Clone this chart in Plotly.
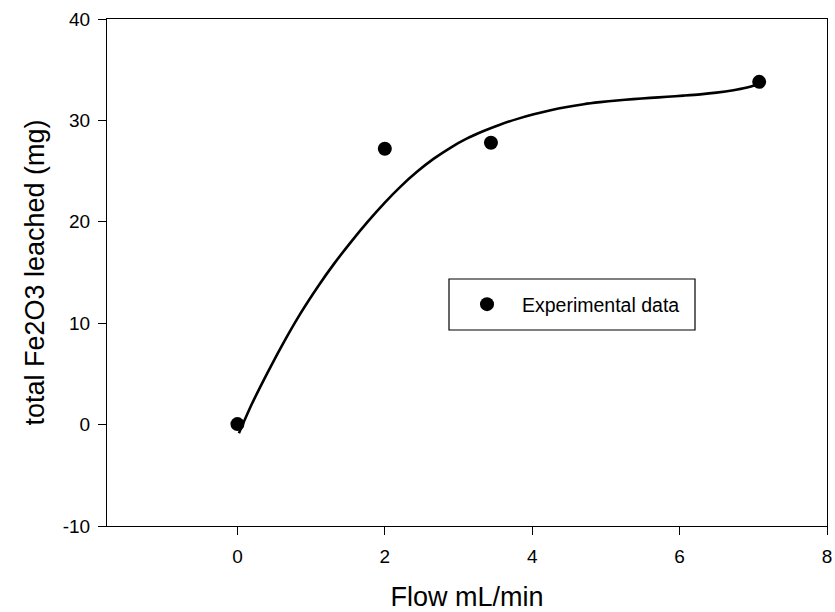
import plotly.graph_objects as go

# Experimental data
flow = [0.0, 2.0, 3.44, 7.08]
fe2o3 = [0.05, 27.2, 27.8, 33.8]

# Fitted curve
fit_x = [0.02, 0.2, 0.4, 0.6, 0.85, 1.1, 1.31, 1.55, 1.76, 2.0, 2.21, 2.44, 2.66, 2.9, 3.11,
         3.34, 3.57, 3.8, 4.02, 4.25, 4.47, 4.7, 4.92, 5.15, 5.37, 5.6, 5.83, 6.05, 6.28,
         6.5, 6.73, 6.9, 7.08]
fit_y = [-0.85, 2.1, 5.0, 7.75, 10.9, 13.7, 15.85, 18.1, 19.95, 21.9, 23.45, 24.95, 26.2, 27.35, 28.2,
         28.95, 29.6, 30.15, 30.6, 31.0, 31.32, 31.6, 31.8, 31.97, 32.1, 32.22, 32.33, 32.44, 32.57,
         32.74, 32.98, 33.22, 33.6]

x_ticks = [0, 2, 4, 6, 8]
x_labels = ["0", "2", "4", "6", "8"]
y_ticks = [-10, 0, 10, 20, 30, 40]
y_labels = ["-10", "0", "10", "20", "30", "40"]

FONT = "Arial, Liberation Sans, sans-serif"

fig = go.Figure()
fig.add_trace(go.Scatter(x=fit_x, y=fit_y, mode="lines",
                         line=dict(color="black", width=2.6, shape="spline", smoothing=0.8),
                         showlegend=False, hoverinfo="skip"))
fig.add_trace(go.Scatter(x=flow, y=fe2o3, mode="markers", name="Experimental data",
                         marker=dict(color="black", size=14)))

axis_common = dict(showline=True, linecolor="black", linewidth=1.2, mirror=True,
                   ticks="outside", ticklen=8, tickcolor="black", tickwidth=1.2,
                   showgrid=False, zeroline=False, automargin=False,
                   tickfont=dict(family=FONT, size=19, color="black"))

fig.update_xaxes(range=[-1.77, 8], tickvals=x_ticks, ticktext=x_labels, ticklabelstandoff=5,
                 title=dict(text="Flow mL/min", font=dict(family=FONT, size=27, color="black"), standoff=22),
                 **axis_common)
fig.update_yaxes(range=[-10, 40], tickvals=y_ticks, ticktext=y_labels, ticklabelstandoff=4,
                 title=dict(text="total Fe2O3 leached (mg)", font=dict(family=FONT, size=27, color="black"), standoff=10),
                 **axis_common)

fig.add_shape(type="rect", xref="paper", yref="paper",
              x0=(449 - 107) / 720, x1=(695 - 107) / 720,
              y0=(526 - 330) / 507, y1=(526 - 279) / 507,
              line=dict(color="black", width=1.2), fillcolor="rgba(0,0,0,0)")

fig.update_layout(
    width=835, height=612,
    margin=dict(l=107, r=8, t=19, b=86),
    plot_bgcolor="white", paper_bgcolor="white",
    font=dict(family=FONT, color="black"),
    legend=dict(x=(452 - 107) / 720, y=(526 - 304.5) / 507, xanchor="left", yanchor="middle",
                itemwidth=60,
                bgcolor="rgba(0,0,0,0)", borderwidth=0,
                font=dict(family=FONT, size=19.5, color="black")),
)

fig.write_html("out.html")
